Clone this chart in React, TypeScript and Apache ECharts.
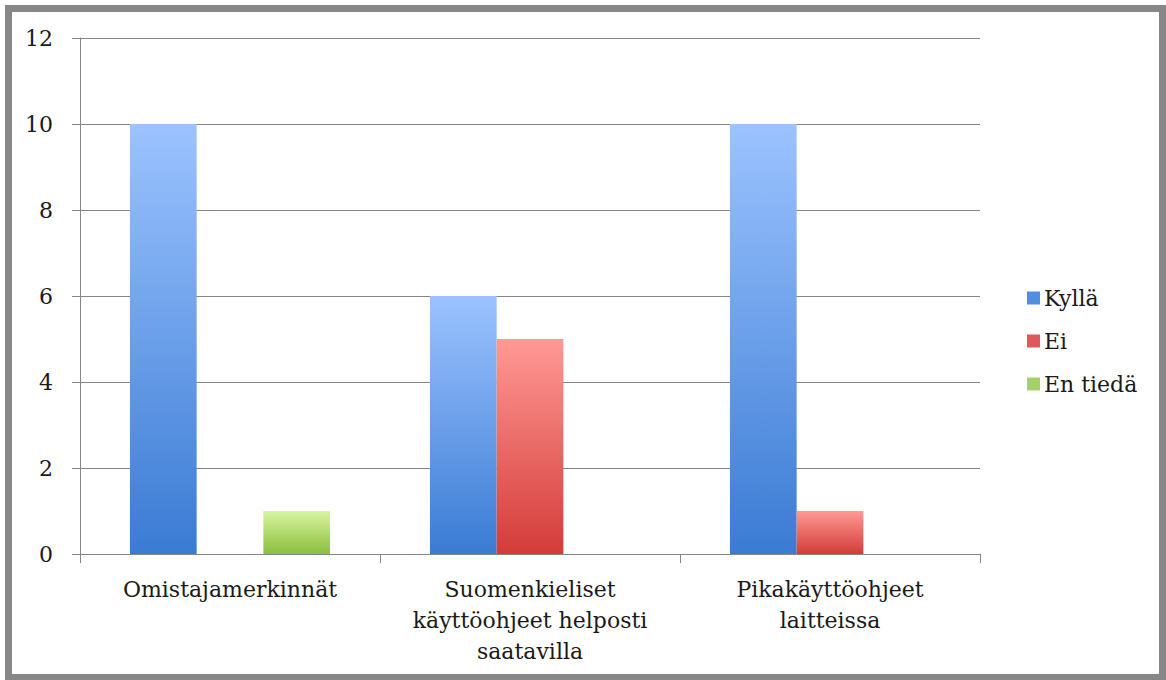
import React, { useEffect, useRef } from "react";
import * as echarts from "echarts";

const categories = [
  "Omistajamerkinnät",
  "Suomenkieliset\nkäyttöohjeet helposti\nsaatavilla",
  "Pikakäyttöohjeet\nlaitteissa",
];
const seriesNames = ["Kyllä", "Ei", "En tiedä"];
const kylla = [10, 6, 10];
const ei = [0, 5, 1];
const enTieda = [1, 0, 0];
const yTicks = { min: 0, max: 12, interval: 2 };

const FONT = "DejaVu Serif";

function grad(top: string, bottom: string) {
  return new echarts.graphic.LinearGradient(0, 0, 0, 1, [
    { offset: 0, color: top },
    { offset: 1, color: bottom },
  ]);
}

export default function App() {
  const ref = useRef<HTMLDivElement>(null);

  useEffect(() => {
    if (!ref.current) return;
    const chart = echarts.init(ref.current, undefined, { renderer: "svg" });
    const colors = [
      grad("#9cc3ff", "#3a7bd3"),
      grad("#ff9995", "#d33c39"),
      grad("#d9f5a0", "#8cbf3c"),
    ];
    const legendColors = ["#4f8ee0", "#e0595a", "#a6d265"];
    const values = [kylla, ei, enTieda];

    chart.setOption({
      animation: false,
      textStyle: { fontFamily: FONT },
      graphic: [
        {
          type: "rect",
          shape: { x: 8.5, y: 8.5, width: 1154, height: 669 },
          style: { fill: "none", stroke: "#878787", lineWidth: 7 },
          silent: true,
          z: 10,
        },
      ],
      grid: { left: 80, right: 186, top: 38, bottom: 126, containLabel: false },
      legend: {
        orient: "vertical",
        left: 1022,
        top: 282,
        itemWidth: 13,
        itemHeight: 13,
        itemGap: 21,
        icon: "rect",
        data: seriesNames.map((n, i) => ({ name: n, itemStyle: { color: legendColors[i] } })),
        textStyle: { fontFamily: FONT, fontSize: 22, color: "#1a1a1a", padding: [0, 0, 0, -1] },
      },
      xAxis: {
        type: "category",
        data: categories,
        axisLine: { lineStyle: { color: "#868686", width: 1 } },
        axisTick: { show: true, length: 9, lineStyle: { color: "#868686" } },
        axisLabel: {
          fontFamily: FONT,
          fontSize: 22,
          color: "#1a1a1a",
          lineHeight: 31,
          margin: 20,
          interval: 0,
        },
      },
      yAxis: {
        type: "value",
        min: yTicks.min,
        max: yTicks.max,
        interval: yTicks.interval,
        axisLine: { show: true, lineStyle: { color: "#868686" } },
        axisTick: { show: true, length: 8, inside: false, lineStyle: { color: "#868686" } },
        splitLine: { lineStyle: { color: "#868686", width: 1 } },
        axisLabel: { fontFamily: FONT, fontSize: 22, color: "#1a1a1a", margin: 27 },
      },
      series: seriesNames.map((name, i) => ({
        name,
        type: "bar",
        data: values[i],
        barGap: "0%",
        barCategoryGap: "33.3%",
        itemStyle: { color: colors[i] },
      })),
    });

    return () => chart.dispose();
  }, []);

  return (
    <div
      ref={ref}
      style={{ position: "absolute", left: 0, top: 0, width: 1166, height: 680, background: "#fff" }}
    />
  );
}
